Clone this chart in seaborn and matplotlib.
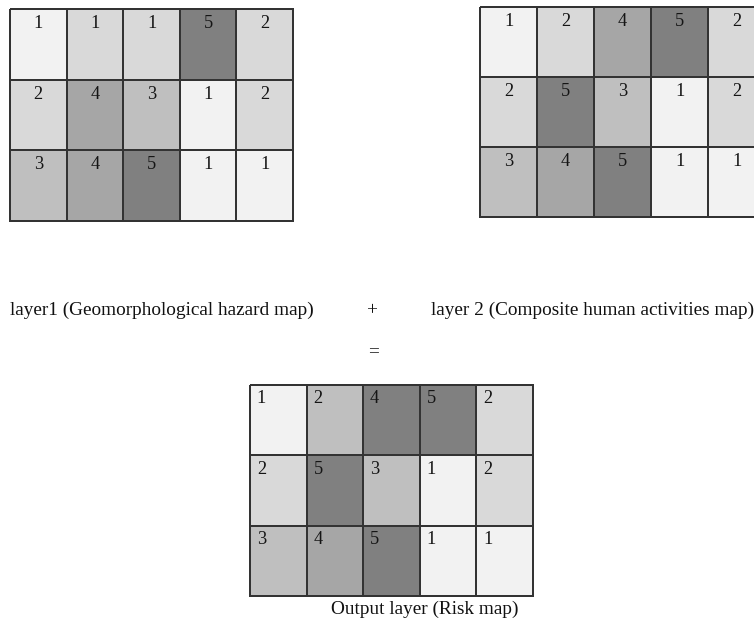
import numpy as np
import pandas as pd
import seaborn as sns
import matplotlib
matplotlib.use("Agg")
import matplotlib.pyplot as plt
from matplotlib.colors import ListedColormap

# ---- data ----
layer1_values = [[1, 1, 1, 5, 2],
                 [2, 4, 3, 1, 2],
                 [3, 4, 5, 1, 1]]
layer1_shades = [[1, 2, 2, 5, 2],
                 [2, 4, 3, 1, 2],
                 [3, 4, 5, 1, 1]]
layer2_values = [[1, 2, 4, 5, 2],
                 [2, 5, 3, 1, 2],
                 [3, 4, 5, 1, 1]]
layer2_shades = [[1, 2, 4, 5, 2],
                 [2, 5, 3, 1, 2],
                 [3, 4, 5, 1, 1]]
output_values = [[1, 2, 4, 5, 2],
                 [2, 5, 3, 1, 2],
                 [3, 4, 5, 1, 1]]
output_shades = [[1, 3, 5, 5, 2],
                 [2, 5, 3, 1, 2],
                 [3, 4, 5, 1, 1]]
shade_colors = ['#F2F2F2', '#D9D9D9', '#BFBFBF', '#A6A6A6', '#808080']

label_layer1 = "layer1 (Geomorphological hazard map)"
label_layer2 = "layer 2 (Composite human activities map)"
label_plus = "+"
label_eq = "="
label_output = "Output layer (Risk map)"

# ---- figure ----
sns.set_style("white")
plt.rcParams['font.family'] = ['Liberation Serif', 'DejaVu Serif']

W, H = 754, 618
fig = plt.figure(figsize=(W / 100, H / 100), dpi=100)
fig.patch.set_facecolor('white')
cmap = ListedColormap(shade_colors)


def px_axes(x0, y0, x1, y1):
    return fig.add_axes([x0 / W, 1 - y1 / H, (x1 - x0) / W, (y1 - y0) / H])


def draw_grid(ax, shades, values, align='center', xoff=0.5, base=0.27, fs=13.2):
    df = pd.DataFrame(shades)
    sns.heatmap(df, ax=ax, cmap=cmap, vmin=0.5, vmax=5.5, cbar=False,
                linewidths=1.4, linecolor='#333333',
                xticklabels=False, yticklabels=False)
    ax.collections[0].set_clip_on(False)
    vals = np.array(values)
    for i in range(vals.shape[0]):
        for j in range(vals.shape[1]):
            ax.text(j + xoff, i + base, str(vals[i, j]), ha=align,
                    va='baseline', fontsize=fs, color='#151515')


ax1 = px_axes(10, 9, 293, 221)
draw_grid(ax1, layer1_shades, layer1_values)

ax2 = px_axes(480, 7, 765, 217)
draw_grid(ax2, layer2_shades, layer2_values)

ax3 = px_axes(250, 385, 533, 596)
draw_grid(ax3, output_shades, output_values, align='left', xoff=0.12, base=0.26)

fs_lab = 13.9
tc = '#111111'
fig.text(10 / W, 1 - 315 / H, label_layer1, fontsize=fs_lab, ha='left', va='baseline', color=tc)
fig.text(372 / W, 1 - 315 / H, label_plus, fontsize=fs_lab, ha='center', va='baseline', color=tc)
fig.text(431 / W, 1 - 315 / H, label_layer2, fontsize=fs_lab, ha='left', va='baseline', color=tc)
fig.text(373 / W, 1 - 356 / H, label_eq, fontsize=fs_lab, ha='center', va='baseline', color=tc)
fig.text(425 / W, 1 - 614 / H, label_output, fontsize=fs_lab, ha='center', va='baseline', color=tc)

fig.savefig("out.png", dpi=100, facecolor='white')
